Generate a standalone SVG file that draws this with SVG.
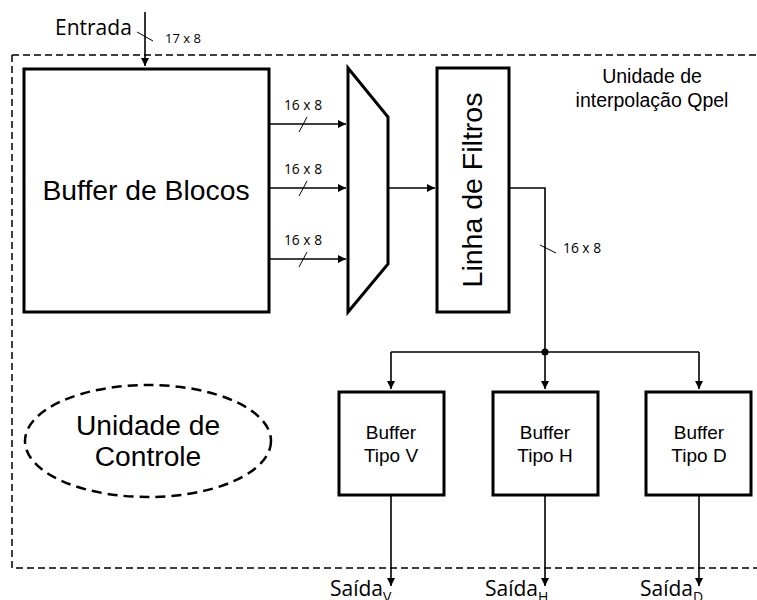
<svg xmlns="http://www.w3.org/2000/svg" width="757" height="600" viewBox="0 0 757 600">
  <style>
    .blk { fill: #fff; stroke: #000; stroke-width: 3; }
    .wire { fill: none; stroke: #000; stroke-width: 1.6; }
    .slash { fill: none; stroke: #000; stroke-width: 1; }
    .arial { font-family: "Liberation Sans", Arial, sans-serif; fill: #000; }
    .cal { font-family: "Open Sans", "Liberation Sans", sans-serif; fill: #000; }
  </style>
  <defs>
    <marker id="ah" viewBox="0 0 10 10" refX="10" refY="5" markerWidth="8" markerHeight="8" markerUnits="userSpaceOnUse" orient="auto">
      <path d="M0,0 L10,5 L0,10 z" fill="#000"/>
    </marker>
  </defs>
  <rect width="757" height="600" fill="#fff"/>

  <!-- interpolation unit boundary -->
  <g id="unit-boundary">
    <path d="M12,55 H757 M12,55 V568 H757" fill="none" stroke="#000" stroke-width="1.5" stroke-dasharray="7,4"/>
    <text class="arial" x="652" y="83" font-size="19.5" text-anchor="middle">Unidade de</text>
    <text class="arial" x="652" y="107" font-size="19.5" text-anchor="middle">interpolação Qpel</text>
  </g>

  <g id="buffer-blocos">
    <rect class="blk" x="24" y="69" width="245" height="243"/>
    <text class="arial" x="146" y="200" font-size="28.3" text-anchor="middle">Buffer de Blocos</text>
  </g>

  <g id="mux">
    <polygon class="blk" points="348,68 388,117 388,264 348,312"/>
  </g>

  <g id="linha-filtros">
    <rect class="blk" x="437" y="68" width="72" height="244"/>
    <text class="arial" transform="translate(482,190) rotate(-90)" font-size="28.5" text-anchor="middle">Linha de Filtros</text>
  </g>

  <g id="controle">
    <ellipse cx="148" cy="441" rx="123" ry="56" fill="#fff" stroke="#000" stroke-width="2.5" stroke-dasharray="10,6"/>
    <text class="arial" x="148" y="435" font-size="28.2" text-anchor="middle">Unidade de</text>
    <text class="arial" x="148" y="466" font-size="28.2" text-anchor="middle">Controle</text>
  </g>

  <g id="buffer-v">
    <rect class="blk" x="339" y="392" width="105" height="103"/>
    <text class="arial" x="391" y="439" font-size="19" text-anchor="middle">Buffer</text>
    <text class="arial" x="391" y="462" font-size="19" text-anchor="middle">Tipo V</text>
  </g>
  <g id="buffer-h">
    <rect class="blk" x="493" y="392" width="105" height="103"/>
    <text class="arial" x="545" y="439" font-size="19" text-anchor="middle">Buffer</text>
    <text class="arial" x="545" y="462" font-size="19" text-anchor="middle">Tipo H</text>
  </g>
  <g id="buffer-d">
    <rect class="blk" x="646" y="392" width="105" height="103"/>
    <text class="arial" x="699" y="439" font-size="19" text-anchor="middle">Buffer</text>
    <text class="arial" x="699" y="462" font-size="19" text-anchor="middle">Tipo D</text>
  </g>

  <g id="connectors">
    <!-- input -->
    <line class="wire" x1="145" y1="12" x2="145" y2="66" marker-end="url(#ah)"/>
    <line class="slash" x1="137" y1="32" x2="153" y2="41"/>
    <text class="cal" x="55" y="35" font-size="21">Entrada</text>
    <text class="cal" x="165" y="43" font-size="13">17 x 8</text>

    <!-- buffer to mux -->
    <line class="wire" x1="269" y1="124" x2="346" y2="124" marker-end="url(#ah)"/>
    <line class="wire" x1="269" y1="188" x2="346" y2="188" marker-end="url(#ah)"/>
    <line class="wire" x1="269" y1="259" x2="346" y2="259" marker-end="url(#ah)"/>
    <line class="slash" x1="299" y1="132" x2="307" y2="117"/>
    <line class="slash" x1="299" y1="196" x2="307" y2="181"/>
    <line class="slash" x1="299" y1="267" x2="307" y2="252"/>
    <text class="cal" x="303" y="110" font-size="13.8" text-anchor="middle">16 x 8</text>
    <text class="cal" x="303" y="174" font-size="13.8" text-anchor="middle">16 x 8</text>
    <text class="cal" x="303" y="245" font-size="13.8" text-anchor="middle">16 x 8</text>

    <!-- mux to filters -->
    <line class="wire" x1="388" y1="188" x2="435" y2="188" marker-end="url(#ah)"/>

    <!-- filters to buffers -->
    <polyline class="wire" points="509,188 545,188 545,352"/>
    <line class="slash" x1="540" y1="245" x2="556" y2="253"/>
    <text class="cal" x="563" y="253" font-size="13.8">16 x 8</text>
    <line class="wire" x1="391" y1="352" x2="699" y2="352"/>
    <circle cx="545" cy="352" r="3.5" fill="#000"/>
    <line class="wire" x1="391" y1="352" x2="391" y2="389" marker-end="url(#ah)"/>
    <line class="wire" x1="545" y1="352" x2="545" y2="389" marker-end="url(#ah)"/>
    <line class="wire" x1="699" y1="352" x2="699" y2="389" marker-end="url(#ah)"/>

    <!-- outputs -->
    <line class="wire" x1="391" y1="495" x2="391" y2="586" marker-end="url(#ah)"/>
    <line class="wire" x1="545" y1="495" x2="545" y2="586" marker-end="url(#ah)"/>
    <line class="wire" x1="699" y1="495" x2="699" y2="586" marker-end="url(#ah)"/>
    <text class="cal" x="330" y="596" font-size="21">Saída<tspan font-size="14" dy="6">V</tspan></text>
    <text class="cal" x="485" y="596" font-size="21">Saída<tspan font-size="14" dy="6">H</tspan></text>
    <text class="cal" x="640" y="596" font-size="21">Saída<tspan font-size="14" dy="6">D</tspan></text>
  </g>
</svg>
